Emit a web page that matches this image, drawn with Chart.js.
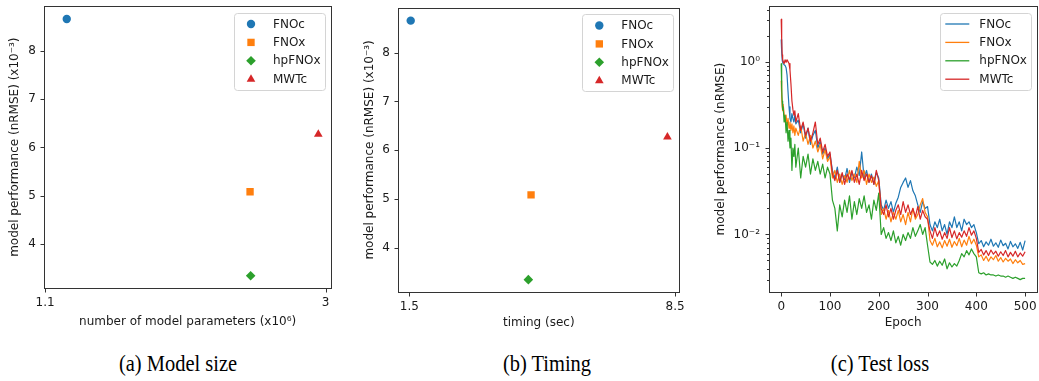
<!doctype html>
<html lang="en">
<head>
<meta charset="utf-8">
<title>Model size, timing and test loss</title>
<style>
  body { margin: 0; background: #fff; width: 1039px; height: 381px; position: relative; overflow: hidden; }
  canvas { position: absolute; top: 0; }
  .caption {
    position: absolute; top: 351px; line-height: 26px;
    font-family: 'Liberation Serif', 'Times New Roman', serif; font-size: 23px; color: #000;
    white-space: nowrap; transform: translateX(-50%) scaleX(0.89);
  }
</style>
</head>
<body>
<canvas id="sizeChart" width="345" height="340" style="left:0px"></canvas>
<canvas id="timeChart" width="345" height="340" style="left:350px"></canvas>
<canvas id="lossChart" width="339" height="340" style="left:700px"></canvas>
<div class="caption" style="left:178px">(a) Model size</div>
<div class="caption" style="left:547px">(b) Timing</div>
<div class="caption" style="left:880px">(c) Test loss</div>

<script src="https://cdn.jsdelivr.net/npm/chart.js"></script>
<script>
// models
const names = ['FNOc', 'FNOx', 'hpFNOx', 'MWTc'];
const colors = ['#1f77b4', '#ff7f0e', '#2ca02c', '#d62728'];
const markers = ['circle', 'rect', 'rectRot', 'triangle'];
const markerSize = [4.2, 5.2, 4.8, 5];

// number of parameters (x10^6), time (sec), nRMSE (x10^-3)
const params = [1.247, 2.488, 2.492, 2.95];
const timing = [1.537, 4.706, 4.635, 8.297];
const nrmse = [8.66, 5.08, 3.34, 6.27];

const paramTicks = [1.1, 3];
const timingTicks = [1.5, 8.5];
const nrmseTicks = [4, 5, 6, 7, 8];

// test loss per epoch
const epochs = [0, 1, 2, 3, 4, 6, 8, 10, 12, 14, 16, 18, 20, 22, 24, 26, 28, 30,
  35, 40, 45, 50, 55, 60, 65, 70, 75, 80, 85, 90, 95, 100,
  105, 110, 115, 120, 125, 130, 135, 140, 145, 150, 155, 160, 165, 170, 175, 180, 185, 190, 195, 200,
  205, 210, 215, 220, 225, 230, 235, 240, 245, 250, 255, 260, 265, 270, 275, 280, 285, 290, 295, 300,
  305, 310, 315, 320, 325, 330, 335, 340, 345, 350, 355, 360, 365, 370, 375, 380, 385, 390, 395, 400,
  405, 410, 415, 420, 425, 430, 435, 440, 445, 450, 455, 460, 465, 470, 475, 480, 485, 490, 495, 500];

const lossFNOc = [1.8, 1.3, 1.05, 0.98, 0.95, 0.92, 0.9, 0.85, 0.7, 0.45, 0.3, 0.22, 0.2, 0.25, 0.22, 0.2, 0.24, 0.19,
  0.21, 0.15, 0.19, 0.13, 0.17, 0.11, 0.14, 0.16, 0.1, 0.12, 0.085, 0.1, 0.075, 0.085,
  0.055, 0.045, 0.06, 0.04, 0.05, 0.043, 0.058, 0.04, 0.052, 0.045, 0.06, 0.048, 0.09, 0.045, 0.055, 0.04, 0.05, 0.038, 0.052, 0.045,
  0.022, 0.019, 0.025, 0.02, 0.024, 0.018, 0.023, 0.027, 0.035, 0.04, 0.045, 0.035, 0.042, 0.032, 0.028, 0.022, 0.018, 0.024, 0.02, 0.021,
  0.013, 0.011, 0.014, 0.012, 0.015, 0.011, 0.013, 0.01, 0.014, 0.012, 0.016, 0.012, 0.014, 0.011, 0.015, 0.013, 0.014, 0.012, 0.013, 0.0105,
  0.0078, 0.0085, 0.0072, 0.0082, 0.0075, 0.0088, 0.0073, 0.008, 0.0071, 0.0086, 0.0074, 0.0079, 0.0068, 0.0083, 0.0072, 0.0078, 0.0069, 0.0081, 0.0066, 0.0085];

const lossFNOx = [0.6, 0.4, 0.3, 0.27, 0.32, 0.25, 0.2, 0.24, 0.18, 0.22, 0.17, 0.2, 0.16, 0.19, 0.15, 0.18, 0.14, 0.17,
  0.14, 0.18, 0.12, 0.15, 0.11, 0.14, 0.1, 0.12, 0.09, 0.11, 0.075, 0.095, 0.07, 0.08,
  0.045, 0.055, 0.04, 0.05, 0.038, 0.048, 0.04, 0.055, 0.042, 0.05, 0.04, 0.07, 0.045, 0.055, 0.038, 0.05, 0.04, 0.046, 0.036, 0.042,
  0.017, 0.02, 0.015, 0.019, 0.014, 0.018, 0.015, 0.019, 0.014, 0.017, 0.013, 0.018, 0.014, 0.02, 0.015, 0.017, 0.022, 0.026, 0.018, 0.016,
  0.0085, 0.0075, 0.009, 0.0072, 0.0082, 0.007, 0.0085, 0.0073, 0.0088, 0.0071, 0.0083, 0.0074, 0.009, 0.0072, 0.0086, 0.0075, 0.0095, 0.0078, 0.0088, 0.0075,
  0.0055, 0.0058, 0.005, 0.0056, 0.0049, 0.0055, 0.0051, 0.0057, 0.0049, 0.0054, 0.0048, 0.0053, 0.0049, 0.0052, 0.0046, 0.0051, 0.0047, 0.005, 0.0045, 0.0046];

const lossHpFNOx = [0.95, 0.5, 0.35, 0.28, 0.3, 0.2, 0.24, 0.15, 0.2, 0.12, 0.16, 0.1, 0.13, 0.055, 0.1, 0.08, 0.11, 0.06,
  0.1, 0.045, 0.08, 0.06, 0.085, 0.05, 0.075, 0.055, 0.07, 0.05, 0.065, 0.045, 0.06, 0.05,
  0.025, 0.02, 0.011, 0.022, 0.016, 0.025, 0.018, 0.028, 0.015, 0.024, 0.017, 0.026, 0.02, 0.028, 0.018, 0.022, 0.015, 0.025, 0.019, 0.03,
  0.01, 0.012, 0.009, 0.0105, 0.0085, 0.011, 0.008, 0.0095, 0.0075, 0.01, 0.0085, 0.0105, 0.009, 0.012, 0.0095, 0.011, 0.013, 0.01, 0.012, 0.0075,
  0.0048, 0.0045, 0.005, 0.0043, 0.0049, 0.0044, 0.0052, 0.004, 0.0047, 0.0042, 0.0046, 0.0043, 0.005, 0.006, 0.0055, 0.0065, 0.0058, 0.0068, 0.006, 0.0055,
  0.0036, 0.0035, 0.0036, 0.0034, 0.0035, 0.0034, 0.0034, 0.0033, 0.0034, 0.0033, 0.0033, 0.0032, 0.0033, 0.0032, 0.0031, 0.0032, 0.0031, 0.003, 0.0031, 0.0031];

const lossMWTc = [3.1, 1.8, 1.2, 1.05, 1.0, 0.95, 1.05, 0.98, 1.05, 1.0, 0.95, 0.8, 0.55, 0.35, 0.28, 0.24, 0.27, 0.2,
  0.25, 0.16, 0.2, 0.14, 0.17, 0.12, 0.15, 0.2, 0.11, 0.13, 0.09, 0.11, 0.08, 0.09,
  0.05, 0.042, 0.055, 0.04, 0.052, 0.038, 0.05, 0.043, 0.055, 0.04, 0.05, 0.038, 0.055, 0.042, 0.05, 0.04, 0.048, 0.038, 0.055, 0.042,
  0.02, 0.017, 0.022, 0.016, 0.02, 0.015, 0.019, 0.022, 0.017, 0.024, 0.018, 0.022, 0.017, 0.02, 0.016, 0.021, 0.015, 0.019, 0.016, 0.015,
  0.011, 0.009, 0.012, 0.0095, 0.011, 0.0088, 0.0105, 0.009, 0.012, 0.0092, 0.011, 0.0089, 0.0105, 0.0093, 0.011, 0.0095, 0.012, 0.0098, 0.011, 0.009,
  0.0062, 0.0067, 0.0058, 0.0065, 0.0057, 0.0066, 0.0059, 0.0064, 0.0056, 0.0063, 0.0057, 0.0065, 0.0055, 0.0062, 0.0056, 0.0064, 0.0055, 0.0061, 0.0056, 0.0063];

const epochTicks = [0, 100, 200, 300, 400, 500];
const lossTicks = [0.01, 0.1, 1];
const lossTickLabels = ['10\u207B\u00B2', '10\u207B\u00B9', '10\u2070'];
const lossMinorTicks = [0.003, 0.004, 0.005, 0.006, 0.007, 0.008, 0.009,
  0.02, 0.03, 0.04, 0.05, 0.06, 0.07, 0.08, 0.09,
  0.2, 0.3, 0.4, 0.5, 0.6, 0.7, 0.8, 0.9, 2, 3, 4];

const font = { family: 'DejaVu Sans', size: 12 };
const textColor = '#1a1a1a';
const axisColor = '#333333';

// fixed axis boxes, so the plot area lands where we want it
function fixHeight(h) {
  return s => { s.height = h; s.paddingLeft = 0; s.paddingRight = 0; s.paddingTop = 0; s.paddingBottom = 0; };
}
function fixWidth(w) {
  return s => { s.width = w; s.paddingLeft = 0; s.paddingRight = 0; s.paddingTop = 0; s.paddingBottom = 0; };
}

// box around the plot and outward tick marks
const framePlugin = {
  id: 'frame',
  afterDatasetsDraw(chart, args, opts) {
    const { ctx, chartArea: a } = chart;
    const xs = chart.scales.x, ys = chart.scales.y;
    const l = Math.round(a.left), r = Math.round(a.right), t = Math.round(a.top), b = Math.round(a.bottom);
    ctx.save();
    ctx.fillStyle = axisColor;
    ctx.fillRect(l, t, r - l + 1, 1);
    ctx.fillRect(l, b, r - l + 1, 1);
    ctx.fillRect(l, t, 1, b - t + 1);
    ctx.fillRect(r, t, 1, b - t + 1);
    xs.ticks.forEach(tk => {
      const px = Math.round(xs.getPixelForValue(tk.value));
      ctx.fillRect(px, b + 1, 1, 3.5);
    });
    ys.ticks.forEach(tk => {
      const py = Math.round(ys.getPixelForValue(tk.value));
      ctx.fillRect(l - 3.5, py, 3.5, 1);
    });
    (opts.minorY || []).forEach(v => {
      const py = Math.round(ys.getPixelForValue(v));
      ctx.fillRect(l - 2, py, 2, 1);
    });
    ctx.restore();
  },
  // legend in the top right corner
  afterDraw(chart, args, opts) {
    const { ctx, chartArea: a } = chart;
    const w = 91, h = 77;
    const left = a.right - 6 - w, top = a.top + 6.5;
    ctx.save();
    ctx.fillStyle = 'rgba(255,255,255,0.8)';
    ctx.strokeStyle = '#d4d4d4';
    ctx.lineWidth = 1;
    ctx.beginPath();
    ctx.roundRect(Math.round(left) + 0.5, Math.round(top) + 0.5, w, h, 3);
    ctx.fill();
    ctx.stroke();
    ctx.font = font.size + 'px "' + font.family + '"';
    ctx.textBaseline = 'middle';
    chart.data.datasets.forEach((ds, i) => {
      const cy = top + 11.5 + i * 18.4;
      if (opts.lines) {
        ctx.strokeStyle = ds.borderColor;
        ctx.lineWidth = 1.3;
        ctx.beginPath();
        ctx.moveTo(left + 5, cy); ctx.lineTo(left + 29, cy);
        ctx.stroke();
      } else {
        ctx.fillStyle = ds.backgroundColor;
        Chart.helpers.drawPoint(ctx, { pointStyle: ds.pointStyle, radius: ds.pointRadius, borderWidth: 0, rotation: 0 }, left + 17, cy);
      }
      ctx.fillStyle = textColor;
      ctx.fillText(ds.label, left + 39, cy + 0.5);
    });
    ctx.restore();
  }
};

function scatterConfig(xs, xTicks, xRange, xTitle, box) {
  return {
    type: 'scatter',
    data: {
      datasets: names.map((n, i) => ({
        label: n,
        data: [{ x: xs[i], y: nrmse[i] }],
        pointStyle: markers[i],
        pointRadius: markerSize[i],
        backgroundColor: colors[i],
        borderWidth: 0
      }))
    },
    plugins: [framePlugin],
    options: {
      responsive: false,
      animation: false,
      layout: { padding: { left: 0, right: box.right, top: box.top, bottom: 0 } },
      plugins: { legend: { display: false }, tooltip: { enabled: false }, frame: { lines: false } },
      scales: {
        x: {
          type: 'linear', min: xRange[0], max: xRange[1],
          afterBuildTicks: s => { s.ticks = xTicks.map(v => ({ value: v })); },
          afterFit: fixHeight(box.xAxis),
          grid: { display: false, drawTicks: false }, border: { display: false },
          ticks: { font, color: textColor, padding: 7, maxRotation: 0, autoSkip: false },
          title: { display: true, text: xTitle, font, color: textColor, padding: { top: 0, bottom: box.xTitle } }
        },
        y: {
          type: 'linear', min: 3.08, max: 8.93,
          afterBuildTicks: s => { s.ticks = nrmseTicks.map(v => ({ value: v })); },
          afterFit: fixWidth(box.yAxis),
          grid: { display: false, drawTicks: false }, border: { display: false },
          ticks: { font, color: textColor, padding: 8.3 },
          title: { display: true, text: 'model performance (nRMSE) (x10\u207B\u00B3)', font, color: textColor, padding: { top: box.yTitle, bottom: 0 } }
        }
      }
    }
  };
}

new Chart(document.getElementById('sizeChart'),
  scatterConfig(params, paramTicks, [1.095, 3.036], 'number of model parameters (x10\u2076)',
    { right: 14, top: 6, xAxis: 51.7, yAxis: 44.3, xTitle: 11.2, yTitle: 7.8 }));

new Chart(document.getElementById('timeChart'),
  scatterConfig(timing, timingTicks, [1.21, 8.61], 'timing (sec)',
    { right: 15.7, top: 7.5, xAxis: 47.7, yAxis: 48.3, xTitle: 9.8, yTitle: 12.8 }));

// test loss curves, log scale
const losses = [lossFNOc, lossFNOx, lossHpFNOx, lossMWTc];
new Chart(document.getElementById('lossChart'), {
  type: 'line',
  data: {
    datasets: names.map((n, i) => ({
      label: n,
      data: epochs.map((e, k) => ({ x: e, y: losses[i][k] })),
      borderColor: colors[i],
      borderWidth: 1.2,
      borderJoinStyle: 'round',
      pointRadius: 0,
      tension: 0,
      order: 3 - i
    }))
  },
  plugins: [framePlugin],
  options: {
    responsive: false,
    animation: false,
    layout: { padding: { left: 0, right: 1.7, top: 6, bottom: 0 } },
    plugins: { legend: { display: false }, tooltip: { enabled: false }, frame: { lines: true, minorY: lossMinorTicks } },
    scales: {
      x: {
        type: 'linear', min: -25, max: 525,
        afterBuildTicks: s => { s.ticks = epochTicks.map(v => ({ value: v })); },
        afterFit: fixHeight(47.7),
        grid: { display: false, drawTicks: false }, border: { display: false },
        ticks: { font, color: textColor, padding: 7, maxRotation: 0, autoSkip: false },
        title: { display: true, text: 'Epoch', font, color: textColor, padding: { top: 0, bottom: 9.6 } }
      },
      y: {
        type: 'logarithmic', min: 0.00214, max: 4.4,
        afterBuildTicks: s => { s.ticks = lossTicks.map(v => ({ value: v })); },
        afterFit: fixWidth(69),
        grid: { display: false, drawTicks: false }, border: { display: false },
        ticks: { font, color: textColor, padding: 9, callback: v => lossTickLabels[lossTicks.indexOf(v)] },
        title: { display: true, text: 'model performance (nRMSE)', font, color: textColor, padding: { top: 13.6, bottom: 0 } }
      }
    }
  }
});
</script>
</body>
</html>
